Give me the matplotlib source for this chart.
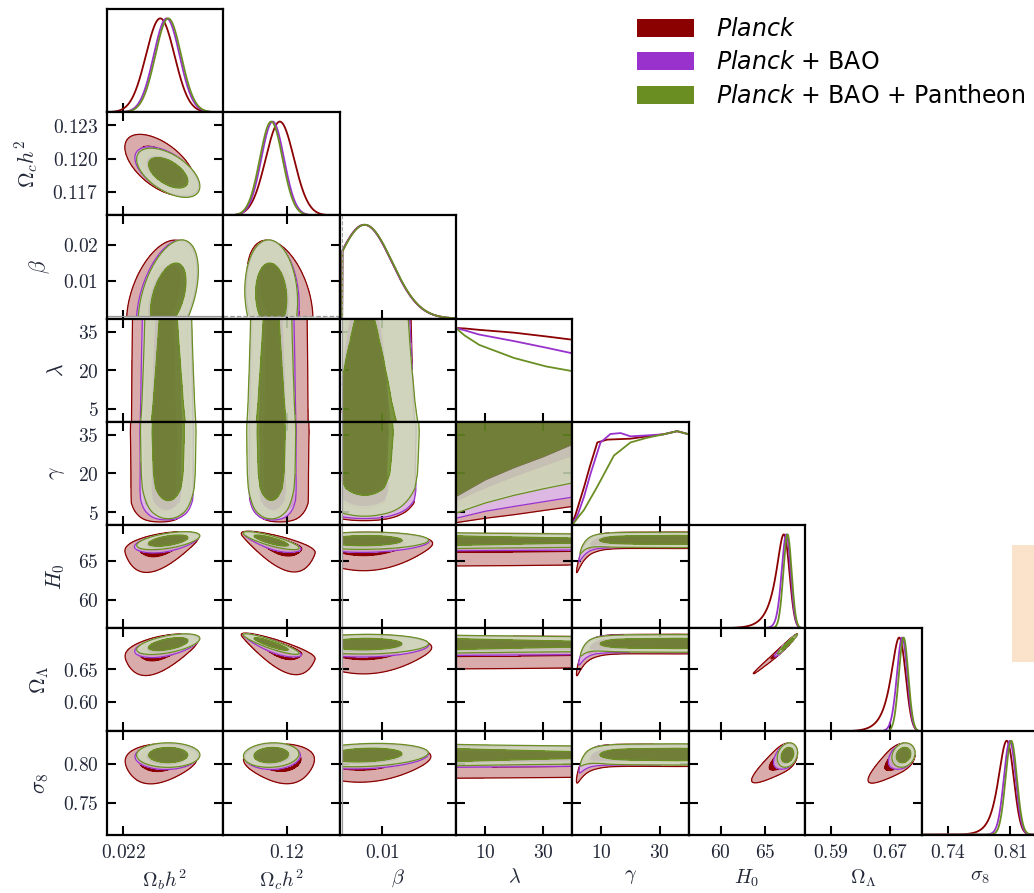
import numpy as np
import matplotlib.pyplot as plt
from matplotlib.colors import to_rgb
from matplotlib.patches import Patch, Rectangle

plt.rcParams['mathtext.fontset'] = 'cm'

# ---------------- values ----------------
labels = [r'$\Omega_b h^2$', r'$\Omega_c h^2$', r'$\beta$', r'$\lambda$',
          r'$\gamma$', r'$H_0$', r'$\Omega_\Lambda$', r'$\sigma_8$']
lims = [(0.021845, 0.022927), (0.11490, 0.12415), (-0.0007, 0.0283), (0, 40),
        (0, 40), (56.4, 69.55), (0.5543, 0.7135), (0.7095, 0.8415)]
xtick_vals = [[0.022], [0.12], [0.01], [10, 30], [10, 30], [60, 65], [0.59, 0.67], [0.74, 0.81]]
xtick_txt = [['0.022'], ['0.12'], ['0.01'], ['10', '30'], ['10', '30'], ['60', '65'],
             ['0.59', '0.67'], ['0.74', '0.81']]
ytick_vals = [[], [0.117, 0.120, 0.123], [0.01, 0.02], [5, 20, 35], [5, 20, 35],
              [60, 65], [0.60, 0.65], [0.75, 0.80]]
ytick_txt = [[], ['0.117', '0.120', '0.123'], ['0.01', '0.02'], ['5', '20', '35'],
             ['5', '20', '35'], ['60', '65'], ['0.60', '0.65'], ['0.75', '0.80']]

datasets = [r'$\mathit{Planck}$', r'$\mathit{Planck}$ + BAO', r'$\mathit{Planck}$ + BAO + Pantheon']
line_colors = ['#8b0000', '#9932cc', '#6b8e23']

# gaussian-like parameters: omega_b, omega_c, beta, H0, Omega_L, sigma8
gi = {0: 0, 1: 1, 2: 2, 5: 3, 6: 4, 7: 5}
means = [[0.02237, 0.11920, 0.0055, 67.60, 0.6890, 0.8110],
         [0.02241, 0.11878, 0.0055, 67.62, 0.6895, 0.8115],
         [0.02242, 0.11870, 0.0056, 67.65, 0.6900, 0.8120]]
sigmas = [[0.00013, 0.00110, 0.0068, 0.50, 0.0072, 0.0068],
          [0.00012, 0.00090, 0.0068, 0.45, 0.0065, 0.0063],
          [0.00012, 0.00090, 0.0068, 0.45, 0.0063, 0.0063]]
corr = np.array([[1.00, -0.55, 0.45, 0.55, 0.55, 0.00],
                 [-0.55, 1.00, -0.10, -0.85, -0.92, 0.10],
                 [0.45, -0.10, 1.00, 0.05, 0.05, 0.20],
                 [0.55, -0.85, 0.05, 1.00, 0.98, 0.20],
                 [0.55, -0.92, 0.05, 0.98, 1.00, 0.15],
                 [0.00, 0.10, 0.20, 0.20, 0.15, 1.00]])
corr_wc_beta = [-0.40, -0.15, -0.10]
# low-gamma tail (mostly Planck alone)
tail_shift = [-0.0002, 0.0015, 0.0, -6.5, -0.075, -0.053]
tail_scale = [0.15, 0.045, 0.02]
gamma_scale = [3.0, 2.5, 2.0]

# 1D lambda posterior (relative)
lam_x = [0, 3, 8, 20, 31, 40]
lam_pdf = [[1.0, 0.995, 0.98, 0.95, 0.91, 0.875],
           [1.0, 0.975, 0.93, 0.86, 0.79, 0.73],
           [1.0, 0.92, 0.82, 0.68, 0.59, 0.54]]
# 1D gamma posterior (relative)
gam_x = [[0, 1, 2, 4, 6, 8.6, 12, 20, 25.7, 31.4, 36, 40],
         [0, 1, 2, 4, 6.3, 9.7, 13.1, 16.6, 20, 25.7, 31.4, 36, 40],
         [0, 1.7, 4, 8.6, 14.3, 20, 25.7, 31.4, 36, 40]]
gam_pdf = [[0.03, 0.10, 0.20, 0.40, 0.62, 0.88, 0.91, 0.92, 0.945, 0.967, 1.0, 0.967],
           [0.03, 0.06, 0.12, 0.30, 0.55, 0.88, 0.97, 0.98, 0.945, 0.955, 0.967, 1.0, 0.967],
           [0.0, 0.07, 0.16, 0.41, 0.74, 0.88, 0.93, 0.967, 1.0, 0.967]]
# lambda-gamma panel: lower gamma edge of the 95% and 68% regions
lg_lam = [0, 10, 20, 30, 40]
lg_out = [[0.9, 2.6, 4.0, 5.6, 7.2], [2.6, 5.3, 7.2, 9.0, 10.8], [4.6, 8.5, 11.5, 14.0, 16.3]]
lg_in = [[6.5, 9.5, 12.8, 15.5, 17.6], [9.5, 14.5, 19.0, 23.0, 27.0], [11.1, 17.5, 22.3, 26.5, 31.3]]

# ---------------- model helpers ----------------
s_nodes = np.linspace(0, 1, 81)
tail_w = [np.exp(-s_nodes / t) for t in tail_scale]


def light(c):
    return tuple(1 - 0.33 * (1 - np.array(to_rgb(c))))


def rho(d, a, b):
    if {a, b} == {1, 2}:
        return corr_wc_beta[d]
    return corr[a, b]


def g1(d, a, x):
    out = np.zeros_like(x, dtype=float)
    for s, w in zip(s_nodes, tail_w[d]):
        out += w * np.exp(-0.5 * ((x - means[d][a] - s * tail_shift[a]) / sigmas[d][a]) ** 2)
    if a == 2:
        out[x < 0] = 0
    return out


def gauss_pair(d, a, b, X, Y):
    sa, sb, r = sigmas[d][a], sigmas[d][b], rho(d, a, b)
    Z = np.zeros_like(X)
    for s, w in zip(s_nodes, tail_w[d]):
        u = (X - means[d][a] - s * tail_shift[a]) / sa
        v = (Y - means[d][b] - s * tail_shift[b]) / sb
        Z += w * np.exp(-(u * u - 2 * r * u * v + v * v) / (2 * (1 - r * r)))
    if a == 2:
        Z[X < 0] = 0
    if b == 2:
        Z[Y < 0] = 0
    return Z


def p_lam(d, x):
    return np.interp(x, lam_x, lam_pdf[d])


def p_gam(d, x):
    return np.interp(x, gam_x[d], gam_pdf[d])


def gamma_cond(d, b, G, Y):
    s = np.exp(-G / gamma_scale[d])
    m = means[d][b] + s * tail_shift[b]
    sy = sigmas[d][b] * (1 + 0.5 * s)
    return p_gam(d, G) * np.exp(-0.5 * ((Y - m) / sy) ** 2) / sy


def density(d, j, i, X, Y):
    if j in gi and i in gi:
        return gauss_pair(d, gi[j], gi[i], X, Y)
    if i == 3:
        return g1(d, gi[j], X) * p_lam(d, Y)
    if i == 4:
        return g1(d, gi[j], X) * p_gam(d, Y)
    if j == 3:
        return p_lam(d, X) * g1(d, gi[i], Y)
    return gamma_cond(d, gi[i], X, Y)


def grid_for(k):
    lo, hi = lims[k]
    if k in (3, 4):
        return np.linspace(0, 40, 161)
    if k == 2:
        return np.linspace(0, 0.045, 161)
    w = hi - lo
    return np.linspace(lo - 0.6 * w, hi + 0.3 * w, 181)


def hpd(Z):
    z = np.sort(Z.ravel())[::-1]
    c = np.cumsum(z)
    c /= c[-1]
    return z[np.searchsorted(c, 0.95)], z[np.searchsorted(c, 0.68)]


# ---------------- figure ----------------
fig = plt.figure(figsize=(10.34, 8.93), dpi=100)
L0, W, T0, H = 106.7, 116.4, 9.0, 103.2
tick_col = '#222838'

for i in range(8):
    for j in range(i + 1):
        ax = fig.add_axes([(L0 + j * W) / 1034, 1 - (T0 + (i + 1) * H) / 893, W / 1034, H / 893])
        for sp in ax.spines.values():
            sp.set_linewidth(1.6)
            sp.set_zorder(5)
        ax.set_xlim(lims[j])
        ax.set_xticks(xtick_vals[j])
        ax.set_xticklabels(['$' + t + '$' for t in xtick_txt[j]])

        if i == j:
            if j == 3:
                for d in range(3):
                    ax.plot(lam_x, lam_pdf[d], color=line_colors[d], lw=1.3)
            elif j == 4:
                for d in range(3):
                    ax.plot(gam_x[d], gam_pdf[d], color=line_colors[d], lw=1.3)
            else:
                x = np.linspace(lims[j][0], lims[j][1], 400)
                for d in range(3):
                    p = g1(d, gi[j], x)
                    ax.plot(x, p / p.max(), color=line_colors[d], lw=1.3)
            if j == 2:
                ax.axvline(0, color='0.65', lw=0.8, ls='--', zorder=3)
            ax.set_ylim(0, 1.1)
            ax.set_yticks([])
            ax.tick_params(axis='x', direction='in', length=6.5, width=1.5,
                           labelbottom=(i == 7), labelsize=14, labelcolor=tick_col, pad=6)
        else:
            ax.set_ylim(lims[i])
            if (i, j) == (4, 3):
                for d in range(3):
                    c = line_colors[d]
                    a = 1.0 if d == 0 else 0.85
                    ax.fill_between(lg_lam, lg_out[d], lg_in[d], color=light(c), alpha=a, lw=0,
                                    zorder=1 + 0.4 * d)
                    ax.fill_between(lg_lam, lg_in[d], 40, color=c, alpha=a, lw=0,
                                    zorder=1 + 0.4 * d)
                    ax.plot(lg_lam, lg_out[d], color=c, lw=0.9, zorder=1.2 + 0.4 * d)
            else:
                X, Y = np.meshgrid(grid_for(j), grid_for(i))
                for d in range(3):
                    c = line_colors[d]
                    Z = density(d, j, i, X, Y)
                    l95, l68 = hpd(Z)
                    a = 1.0 if d == 0 else 0.85
                    ax.contourf(X, Y, Z, levels=[l95, l68, Z.max() * 1.01],
                                colors=[light(c), c], alpha=a, zorder=1 + 0.4 * d)
                    ax.contour(X, Y, Z, levels=[l95, l68], colors=[c], linewidths=0.9,
                               zorder=1.2 + 0.4 * d)
            if j == 2:
                ax.axvline(0, color='0.6', lw=0.9, ls='-', zorder=3)
            if i == 2:
                ax.axhline(0, color='0.6', lw=0.9, ls='-' if j == 0 else '--', zorder=3)
            ax.set_yticks(ytick_vals[i])
            ax.set_yticklabels(['$' + t + '$' for t in ytick_txt[i]])
            ax.tick_params(direction='in', length=6.5, width=1.5, top=True, right=True,
                           labelleft=(j == 0), labelbottom=(i == 7), labelsize=14,
                           labelcolor=tick_col)
            ax.tick_params(axis='x', pad=6)
            ax.tick_params(axis='y', pad=6)
            if j == 0:
                ax.set_ylabel(labels[i], fontsize=15.5, color=tick_col, labelpad=8)
        if i == 7:
            ax.set_xlabel(labels[j], fontsize=14.5, color=tick_col)
            ax.xaxis.set_label_coords(0.5, -0.315)

handles = [Patch(facecolor=c, edgecolor='none') for c in line_colors]
leg = fig.legend(handles, datasets, loc='upper left', bbox_to_anchor=(637 / 1034, 1 - 17 / 893),
                 frameon=False, fontsize=17, handlelength=2.4, handleheight=0.8,
                 handletextpad=0.95, labelspacing=0.4, borderpad=0, borderaxespad=0)
for t in leg.get_texts():
    t.set_math_fontfamily('dejavusans')

fig.patches.append(Rectangle((1012 / 1034, 1 - 662 / 893), 40 / 1034, 117 / 893,
                             transform=fig.transFigure, facecolor='#fbe3cb', edgecolor='none'))

fig.savefig('out.png', dpi=100)
